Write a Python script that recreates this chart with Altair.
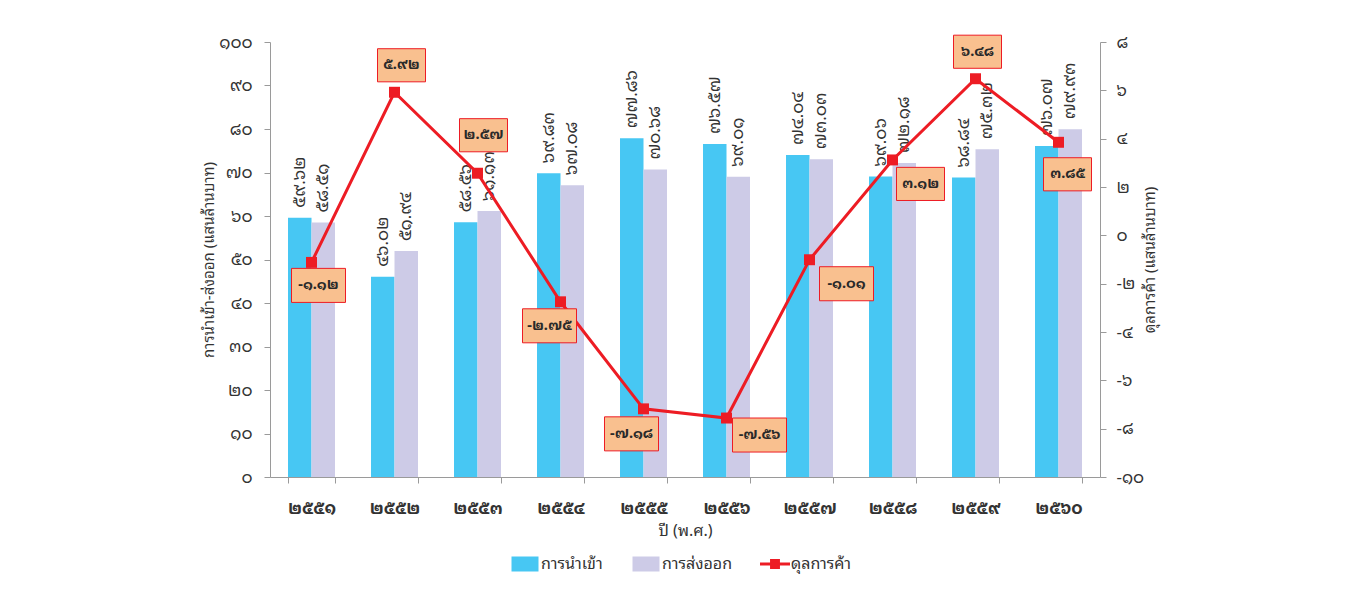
import altair as alt
import pandas as pd

# ---------------- data ----------------
YEARS = ["๒๕๕๑", "๒๕๕๒", "๒๕๕๓", "๒๕๕๔", "๒๕๕๕", "๒๕๕๖", "๒๕๕๗", "๒๕๕๘", "๒๕๕๙", "๒๕๖๐"]
IMPORTS = [59.62, 46.02, 58.56, 69.83, 77.86, 76.57, 74.04, 69.06, 68.84, 76.07]
EXPORTS = [58.51, 51.94, 61.13, 67.08, 70.68, 69.01, 73.03, 72.18, 75.32, 79.93]
BALANCE = [-1.12, 5.92, 2.57, -2.75, -7.18, -7.56, -1.01, 3.12, 6.48, 3.85]
SERIES = ["การนำเข้า", "การส่งออก", "ดุลการค้า"]
LEFT_TICKS = [0, 10, 20, 30, 40, 50, 60, 70, 80, 90, 100]
RIGHT_TICKS = [-10, -8, -6, -4, -2, 0, 2, 4, 6, 8]

# placement of the balance call-out boxes (pixel offset from the marker)
LABEL_DX = [7, 7, 6, -11, -12, 33, 37, 28, 2, 9]
LABEL_DY = [23, -27, -38, 24, 25, 17, 24, 24, -27, 32]

THAI_DIGITS = "๐๑๒๓๔๕๖๗๘๙"
TO_THAI = str.maketrans("0123456789", THAI_DIGITS)


def thai(v):
    return f"{v:.2f}".translate(TO_THAI)


def thai_expr(src):
    e = f"toString({src})"
    for d in range(10):
        e = f"replace({e}, regexp('{d}', 'g'), '{THAI_DIGITS[d]}')"
    return e


bar_rows = []
for y, imp, exp in zip(YEARS, IMPORTS, EXPORTS):
    bar_rows.append({"year": y, "series": SERIES[0], "value": imp, "label": thai(imp)})
    bar_rows.append({"year": y, "series": SERIES[1], "value": exp, "label": thai(exp)})
bar_df = pd.DataFrame(bar_rows)

bal_df = pd.DataFrame({
    "year": YEARS,
    "series": SERIES[2],
    "balance": BALANCE,
    "label": [thai(b) for b in BALANCE],
    "dx": LABEL_DX,
    "dy": LABEL_DY,
})

# ---------------- styles ----------------
FONT = "Noto Sans Thai Looped, Noto Sans Thai, Loma, Garuda, Tahoma, sans-serif"
BLUE = "#47C7F3"
LAV = "#CDCBE7"
RED = "#ED1C24"
BOX = "#F9C08F"
AXIS_GREY = "#9a9a9a"
TEXT = "#333333"

RECT_PATH = "M-0.9,-0.5H0.9V0.5H-0.9Z"
LINE_PATH = ("M-1,-0.1H-0.33V-0.33H0.33V-0.1H1V0.1H0.33V0.33H-0.33V0.1H-1Z")
BOX_POS = "M-1,-0.69H1V0.69H-1Z"
BOX_NEG = "M-1,-0.63H1V0.63H-1Z"

color_scale = alt.Scale(domain=SERIES, range=[BLUE, LAV, RED])
legend = alt.Legend(
    title=None, orient="none", legendX=240, legendY=507, direction="horizontal",
    symbolType={"expr": f"datum.value == '{SERIES[2]}' ? '{LINE_PATH}' : '{RECT_PATH}'"},
    symbolSize=900, symbolStrokeWidth=0, labelFontSize=16, labelFont=FONT,
    labelColor=TEXT, columnPadding=28, labelOffset=1,
)

x_enc = alt.X(
    "year:N", sort=YEARS,
    scale=alt.Scale(paddingInner=0.434, paddingOuter=0.217),
    axis=alt.Axis(
        title="ปี (พ.ศ.)", labelAngle=0, labelFontWeight="bold", labelFontSize=17,
        labelPadding=17, tickBand="extent", tickSize=6, titleFontSize=16,
        titleFontWeight="normal", titlePadding=6,
    ),
)

left_axis = alt.Axis(
    values=LEFT_TICKS, labelExpr=thai_expr("datum.value"),
    title="การนำเข้า-ส่งออก (แสนล้านบาท)", tickSize=6, labelPadding=12,
    labelFontSize=17, titleFontSize=15, titleFontWeight="normal", titlePadding=2,
)
right_axis = alt.Axis(
    values=RIGHT_TICKS, labelExpr=thai_expr("datum.value"), orient="right",
    title="ดุลการค้า (แสนล้านบาท)", titleAngle=270, tickSize=6, labelPadding=10,
    labelFontSize=17, titleFontSize=15, titleFontWeight="normal", titlePadding=14,
)

y_left = alt.Y("value:Q", scale=alt.Scale(domain=[0, 100], nice=False), axis=left_axis)
y_right = alt.Y("balance:Q", scale=alt.Scale(domain=[-10, 8], nice=False, zero=False), axis=right_axis)

bars = alt.Chart(bar_df).mark_bar().encode(
    x=x_enc,
    xOffset=alt.XOffset("series:N", sort=SERIES[:2]),
    y=y_left,
    color=alt.Color("series:N", scale=color_scale, legend=legend),
)

bar_text = alt.Chart(bar_df).mark_text(
    angle=270, align="left", baseline="middle", yOffset=-10,
    fontSize=17, color=TEXT, font=FONT,
).encode(
    x=x_enc,
    xOffset=alt.XOffset("series:N", sort=SERIES[:2]),
    y=y_left,
    text="label:N",
)

line = alt.Chart(bal_df).mark_line(
    strokeWidth=3,
    point=alt.OverlayMarkDef(shape="square", size=120, filled=True, color=RED, opacity=1),
).encode(
    x=x_enc,
    y=y_right,
    color=alt.Color("series:N", scale=color_scale, legend=legend),
)

boxes = alt.Chart(bal_df).mark_point(
    filled=True, fill=BOX, stroke=RED, strokeWidth=1, opacity=1,
    xOffset={"expr": "datum.dx"}, yOffset={"expr": "datum.dy"},
).encode(
    x=x_enc,
    y=y_right,
    shape=alt.condition("datum.balance < 0", alt.value(BOX_NEG), alt.value(BOX_POS)),
    size=alt.condition("datum.balance < 0", alt.value(2916), alt.value(2304)),
)

box_text = alt.Chart(bal_df).mark_text(
    dx={"expr": "datum.dx"}, dy={"expr": "datum.dy"},
    fontSize=14.5, fontWeight="bold", color="#2a2a2a", font=FONT,
    align="center", baseline="middle",
).encode(
    x=x_enc,
    y=y_right,
    text="label:N",
)

left = alt.layer(bars, bar_text)
right = alt.layer(line, boxes, box_text)

chart = alt.layer(left, right).resolve_scale(y="independent").properties(
    width=830, height=435,
    padding={"left": 193, "top": 25, "right": 5, "bottom": 5},
).configure_view(stroke=None).configure_axis(
    grid=False, domainColor=AXIS_GREY, tickColor=AXIS_GREY, labelColor=TEXT,
    titleColor=TEXT, labelFont=FONT, titleFont=FONT,
).configure_text(font=FONT)

chart.save("out.html", embed_options={"renderer": "svg", "actions": False})
